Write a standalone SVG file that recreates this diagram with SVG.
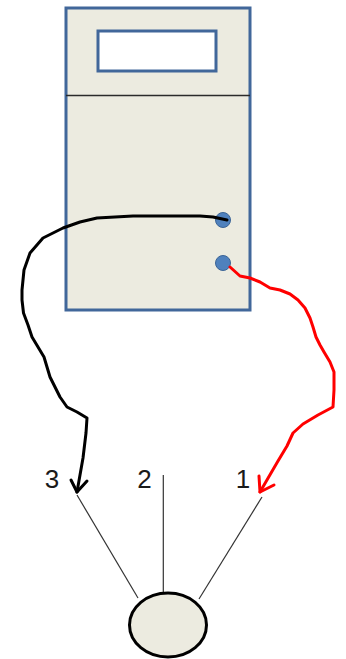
<svg xmlns="http://www.w3.org/2000/svg" width="346" height="659" viewBox="0 0 346 659">
  <style>
    .case { fill: #ecebe0; stroke: #41679a; stroke-width: 3; }
    .screen { fill: #ffffff; stroke: #41679a; stroke-width: 3; }
    .knob { fill: #4f81bd; stroke: #3b6496; stroke-width: 1; }
    .wire { fill: none; stroke-width: 3; stroke-linecap: round; stroke-linejoin: round; }
    .lead { fill: none; stroke: #333333; stroke-width: 1.2; }
    .label { font-family: "Liberation Sans", Arial, sans-serif; font-size: 26px; fill: #1a1a1a; text-anchor: middle; }
  </style>

  <!-- meter body -->
  <g id="meter">
    <rect class="case" x="66" y="8" width="184" height="302"/>
    <rect class="screen" x="98" y="31" width="118" height="40"/>
    <line x1="66" y1="95.5" x2="250" y2="95.5" stroke="#2a2a2a" stroke-width="1.5"/>
    <circle class="knob" cx="223" cy="220" r="7.5"/>
    <circle class="knob" cx="223" cy="263" r="7.5"/>
  </g>

  <!-- component with three legs -->
  <g id="component">
    <line class="lead" x1="77" y1="495" x2="138" y2="598"/>
    <line class="lead" x1="163.3" y1="475" x2="163.3" y2="593"/>
    <line class="lead" x1="262" y1="497" x2="199" y2="599"/>
    <ellipse cx="168" cy="625" rx="38.5" ry="32" fill="#ecebe0" stroke="#000" stroke-width="3"/>
  </g>

  <g id="labels">
    <text class="label" x="52" y="488">3</text>
    <text class="label" x="144.5" y="488">2</text>
    <text class="label" x="243" y="488">1</text>
  </g>

  <!-- test leads -->
  <g id="connectors">
    <path class="wire" stroke="#000000" d="M227,220 L213,217 L200,216 L165,216 L133,216 L97,218 L80,222 L63,228 L43,238 L30,253 L24,270 L22,290 L22,300 L23.5,313 L28,325 L32,337 L38,347 L44,357 L50,377 L55,387 L60,397 L67,407 L77,412 L87,418 L86,433 L83,458 L77,492"/>
    <path class="wire" stroke="#000000" d="M71,480 L77,492 L87,481"/>
    <path class="wire" stroke="#ff0000" d="M230,267 L240,276 L250,278 L260,282 L270,288 L280,290 L290,294 L298,300 L305,308 L310,318 L313,327 L316,337 L320,345 L324,352 L330,362 L334,372 L334,390 L333,407 L318,415 L303,424 L293,433 L287,446 L278,461 L260,492"/>
    <path class="wire" stroke="#ff0000" d="M259,476 L260,492 L274,485"/>
  </g>
</svg>
